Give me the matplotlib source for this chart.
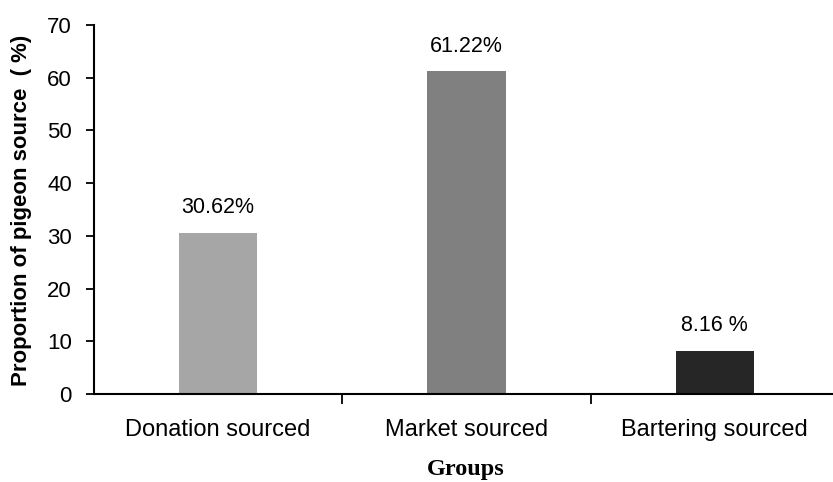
import matplotlib.pyplot as plt

# values
groups = ["Donation sourced", "Market sourced", "Bartering sourced"]
proportions = [30.62, 61.22, 8.16]
bar_labels = ["30.62%", "61.22%", "8.16 %"]
bar_colors = ["#a6a6a6", "#808080", "#262626"]
y_ticks = [0, 10, 20, 30, 40, 50, 60, 70]

plt.rcParams['font.family'] = ['Liberation Sans', 'DejaVu Sans']


def main():
    fig = plt.figure(figsize=(8.33, 4.82), dpi=100)
    ax = fig.add_axes([94 / 833, 88 / 482, 739 / 833, 369 / 482])

    x = list(range(len(groups)))
    ax.bar(x, proportions, width=0.315, color=bar_colors, zorder=2)

    for xi, val, lab in zip(x, proportions, bar_labels):
        ax.annotate(lab, (xi, val), xytext=(0, 18), textcoords="offset points",
                    ha="center", va="center", fontsize=15.5)

    ax.set_xlim(-0.5, 2.476)
    ax.set_ylim(0, 70)
    ax.set_yticks(y_ticks)
    ax.tick_params(axis="y", labelsize=16, length=6, width=1.3, pad=10)

    # ticks between categories, labels centred under bars
    ax.set_xticks([0.5, 1.5])
    ax.set_xticklabels([])
    ax.set_xticks(x, minor=True)
    ax.set_xticklabels(groups, minor=True)
    ax.tick_params(axis="x", which="major", length=7, width=1.3, direction="out")
    ax.tick_params(axis="x", which="minor", length=0, labelsize=17, pad=18)

    for side in ("top", "right"):
        ax.spines[side].set_visible(False)
    for side in ("left", "bottom"):
        ax.spines[side].set_linewidth(1.5)

    fig.text(22 / 833, 1 - 210 / 482, "Proportion of pigeon source  ( %)",
             rotation=90, ha="center", va="center", fontsize=16, fontweight="bold")
    fig.text(466 / 833, 1 - 469 / 482, "Groups", ha="center", va="center",
             fontsize=17.5, fontweight="bold", family="Liberation Serif")

    fig.savefig("out.png", dpi=100)


if __name__ == "__main__":
    main()
